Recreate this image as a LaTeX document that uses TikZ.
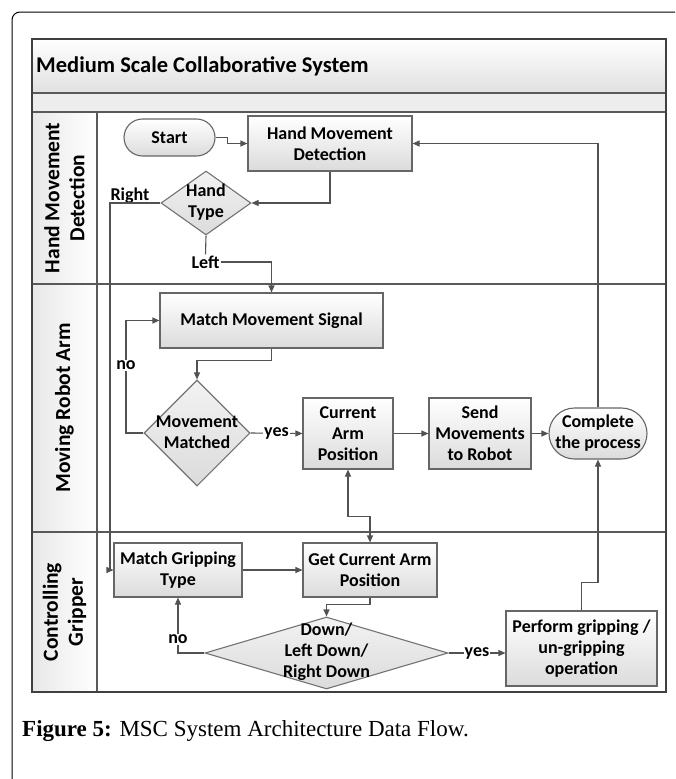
\documentclass[tikz,border=0pt]{standalone}
\usepackage{fontspec}
\setmainfont{Carlito}
\newfontfamily\capfont{Liberation Serif}
\usetikzlibrary{arrows.meta,shapes.geometric}
\begin{document}
\begin{tikzpicture}[x=1pt,y=-1pt,
  every node/.style={font=\fontsize{18}{21}\selectfont\bfseries, text=black},
  ln/.style={draw=black!68, line width=1.1pt},
  arr/.style={ln, -{Triangle[length=7pt,width=6pt]}},
  darr/.style={ln, {Triangle[length=7pt,width=6pt]}-{Triangle[length=7pt,width=6pt]}},
  box/.style={draw=black!60, line width=1.1pt, top color=white, bottom color=black!14, align=center, inner sep=0pt},
  term/.style={box},
  dia/.style={shape=diamond, draw=black!55, line width=1.1pt, top color=black!5, bottom color=black!14, inner sep=0pt},
  lbl/.style={fill=white, inner sep=1pt},
  lane/.style={draw=black!65, line width=1.1pt},
  lanelbl/.style={rotate=90, align=center, font=\fontsize{21.5}{25}\selectfont\bfseries}]
\useasboundingbox (0,0) rectangle (675,779);
\clip (0,0) rectangle (675,779);
\fill[white] (0,0) rectangle (675,779);
% outer frame
\draw[black, line width=1pt, rounded corners=8pt] (12,12) rectangle (710,820);
% swimlane frame
\shade[top color=white, bottom color=black!12] (32,39) rectangle (666,93);
\fill[black!7] (32,93) rectangle (666,112);
\shade[left color=black!9, right color=white] (32,112) rectangle (97,692);
\draw[lane] (32,93) -- (666,93);
\draw[lane] (32,112) -- (666,112);
\draw[lane] (32,284) -- (666,284);
\draw[lane] (32,532) -- (666,532);
\draw[lane] (97,112) -- (97,692);
\draw[draw=black!75, line width=1.1pt] (32,39) rectangle (666,692);
\node[anchor=west, inner sep=0pt, font=\fontsize{22.5}{26}\selectfont\bfseries] (title) at (36,66) {Medium Scale Collaborative System};
\node[lanelbl] (lane1) at (64.5,198) {Hand Movement\\Detection};
\node[lanelbl] (lane2) at (64.5,408) {Moving Robot Arm};
\node[lanelbl] (lane3) at (64.5,612) {Controlling\\Gripper};
% nodes
\node[term, rounded corners=18.5pt, minimum width=91pt, minimum height=37pt] (start) at (169.5,137.5) {Start};
\node[box, minimum width=164pt, minimum height=55pt] (hmd) at (330,143.5) {Hand Movement\\Detection};
\node[dia, minimum width=90pt, minimum height=64pt] (ht) at (206,203) {};
\node[align=center, inner sep=0pt] (htt) at (206,202) {Hand\\Type};
\node[inner sep=1pt] (left) at (205.5,262) {Left};
\node[inner sep=1pt] (right) at (130,196) {Right};
\coordinate (rc) at (110,203);
\node[box, minimum width=223pt, minimum height=55pt] (mms) at (271.5,320.5) {Match Movement Signal};
\node[dia, minimum width=106pt, minimum height=106pt] (mm) at (197,433) {};
\node[align=center, inner sep=0pt] (mmt) at (197,432) {Movement\\Matched};
\coordinate (noc) at (126,433);
\node[box, minimum width=90pt, minimum height=71pt] (cap) at (348,433.5) {Current\\Arm\\Position};
\node[box, minimum width=102pt, minimum height=71pt] (sm) at (480,433.5) {Send\\Movements\\to Robot};
\node[term, rounded corners=25.5pt, minimum width=98pt, minimum height=51pt] (cp) at (598,433.5) {Complete\\the process};
\node[box, minimum width=128pt, minimum height=54pt] (mgt) at (178,570) {Match Gripping\\Type};
\node[box, minimum width=134pt, minimum height=54pt] (gcap) at (370,570) {Get Current Arm\\Position};
\node[dia, minimum width=243pt, minimum height=72pt] (dd) at (326.5,653) {};
\node[align=center, inner sep=0pt] (ddt) at (326.5,652) {Down/\\Left Down/\\Right Down};
\node[box, minimum width=151pt, minimum height=75pt] (pf) at (581.5,648.5) {Perform gripping /\\un-gripping\\operation};
% connectors
\draw[arr] (start.east) -- ++(12,0) |- (hmd.west);
\draw[arr] (hmd.south) |- (ht.east);
\draw[ln] (ht.south) -- (left.north);
\draw[arr] (left.east) -| (mms.north);
\draw[arr] (ht.west) -- (rc) |- (mgt.west);
\draw[arr] (mms.south) -- ++(0,12) -| (mm.north);
\draw[arr] (mm.west) -- (noc) |- node[lbl, pos=0.3] {no} (mms.west);
\draw[arr] (mm.east) -- node[lbl] {yes} (cap.west);
\draw[arr] (cap.east) -- (sm.west);
\draw[arr] (sm.east) -- (cp.west);
\draw[arr] (cp.north) |- (hmd.east);
\draw[darr] (cap.south) -- ++(0,47) -| (gcap.north);
\draw[arr] (mgt.east) -- (gcap.west);
\draw[arr] (gcap.south) -- ++(0,7) -| (dd.north);
\draw[arr] (dd.west) -| node[lbl, pos=0.625] {no} (mgt.south);
\draw[arr] (dd.east) -- node[lbl] {yes} (pf.west |- dd.east);
\draw[arr] (pf.north) -- ++(0,-28) -| (cp.south);
% caption
\node[anchor=base west, inner sep=0pt, font=\capfont\fontsize{23}{27}\selectfont] (caption) at (22,736) {\textbf{Figure 5:} MSC System Architecture Data Flow.};
\end{tikzpicture}
\end{document}
